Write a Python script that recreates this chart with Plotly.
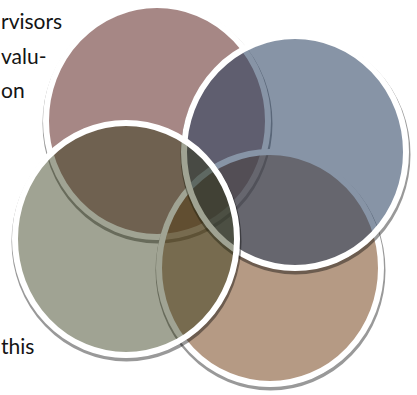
import plotly.graph_objects as go

# ---- data ----
text_fragments = ["rvisors", "valu-", "on", "this"]
circle_names = ["mauve", "tan", "blue", "green"]          # drawing order, bottom -> top

# ---- geometry / styles (pixel coordinates of the 417x395 canvas) ----
W, H = 417, 395
centers = {"mauve": (157, 121), "tan": (270, 268), "blue": (295, 152), "green": (126, 239)}
RX, RY = 114, 119          # outer radii (incl. white ring)
RING = 6                   # white ring width
fills = {
    "mauve": "rgba(93,37,33,0.55)",
    "tan": "rgba(120,71,31,0.55)",
    "blue": "rgba(37,60,93,0.55)",
    "green": "rgba(44,51,16,0.45)",
}
text_left = [0, 0, 0, 0]
text_base = [28, 63, 97, 353]
FONT_SIZE = 21

fig = go.Figure()
fig.add_trace(go.Scatter(x=[], y=[], showlegend=False))

shapes = []
for name in circle_names:
    cx, cy = centers[name]
    # soft drop shadow: thin dark ring slightly lower
    sr_x, sr_y = RX - 1, RY - 1
    shapes.append(dict(type="circle", xref="x", yref="y",
                       x0=cx + 0.5 - sr_x, x1=cx + 0.5 + sr_x,
                       y0=cy + 2.5 - sr_y, y1=cy + 2.5 + sr_y,
                       line=dict(color="rgba(0,0,0,0.40)", width=4),
                       fillcolor="rgba(0,0,0,0)", layer="above"))
    # the circle with its white ring
    mx, my = RX - RING / 2, RY - RING / 2
    shapes.append(dict(type="circle", xref="x", yref="y",
                       x0=cx - mx, x1=cx + mx, y0=cy - my, y1=cy + my,
                       line=dict(color="white", width=RING),
                       fillcolor=fills[name], layer="above"))

annotations = []
for t, xl, yb in zip(text_fragments, text_left, text_base):
    annotations.append(dict(text=t, x=xl, y=yb - 0.35 * FONT_SIZE, xref="x", yref="y",
                            xanchor="left", yanchor="middle", showarrow=False,
                            borderpad=0,
                            font=dict(family="Lato, 'Open Sans', sans-serif",
                                      size=FONT_SIZE, color="#141414")))

fig.update_layout(
    width=W, height=H, autosize=False,
    margin=dict(l=0, r=0, t=0, b=0, pad=0),
    paper_bgcolor="white", plot_bgcolor="white",
    xaxis=dict(range=[0, W], visible=False, fixedrange=True),
    yaxis=dict(range=[H, 0], visible=False, fixedrange=True),
    shapes=shapes, annotations=annotations,
    showlegend=False,
)

fig.write_html("out.html", config={"displayModeBar": False},
               post_script="document.body.style.margin='0';document.body.style.overflow='hidden';")
